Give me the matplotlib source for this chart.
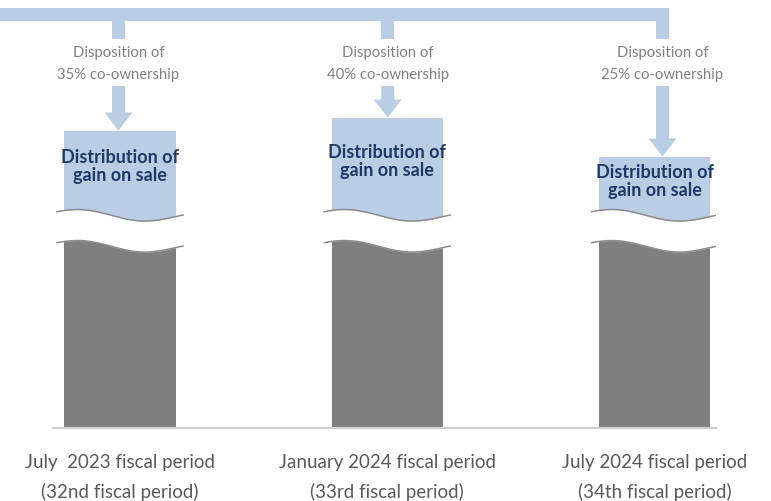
import matplotlib
matplotlib.use("Agg")
import matplotlib.pyplot as plt
import numpy as np
from matplotlib.patches import Rectangle, Polygon

# ---------------- data ----------------
periods = ["July  2023 fiscal period\n(32nd fiscal period)",
           "January 2024 fiscal period\n(33rd fiscal period)",
           "July 2024 fiscal period\n(34th fiscal period)"]
disposition_pct = ["35%", "40%", "25%"]
base_values = [192, 192, 192]      # truncated (broken) base distribution
gain_values = [105, 118, 79]       # distribution of gain on sale
gain_label = "Distribution of\ngain on sale"

# ---------------- style / layout ----------------
W, H = 771, 501
BLUE = "#B9CDE5"
GRAY = "#7F7F7F"
NAVY = "#1F3864"
FONT = "Lato"
plt.rcParams['font.family'] = [FONT, 'DejaVu Sans']

fig = plt.figure(figsize=(W / 100, H / 100), dpi=100)
ax_left_px, ax_right_px = 53, 716
base_px = 427.5
ax = fig.add_axes([ax_left_px / W, (H - base_px) / H,
                   (ax_right_px - ax_left_px) / W, base_px / H])
x = np.arange(len(periods))
ax.set_xlim(-0.2507, 2.230)
ax.set_ylim(0, base_px)
bw = 0.417

ax.bar(x, base_values, width=bw, color=GRAY, zorder=2)
ax.bar(x, gain_values, bottom=base_values, width=bw, color=BLUE, zorder=2)

# break marks (white wavy band)
m = 0.03
for i in x:
    xs = np.linspace(i - bw / 2 - m, i + bw / 2 + m, 200)
    t = (xs - xs[0]) / (xs[-1] - xs[0])
    off = -5 * np.sin(2 * np.pi * t + 0.44) + 3 * t
    yu = base_values[i] + 21.5 - off
    yl = base_values[i] - 9.5 - off
    ax.fill_between(xs, yl, yu, color="white", zorder=3, lw=0)
    ax.plot(xs, yu, color="#8C8C8C", lw=1.1, zorder=4, solid_capstyle="butt")
    ax.plot(xs, yl, color="#8C8C8C", lw=1.1, zorder=4, solid_capstyle="butt")

# box text
text_offsets = [36, 44, 25]
for i in x:
    top = base_values[i] + gain_values[i]
    ax.text(i, top - text_offsets[i], gain_label, ha="center", va="center",
            fontsize=13, fontweight="bold", color=NAVY, linespacing=1.08,
            zorder=5)

for s in ["top", "left", "right"]:
    ax.spines[s].set_visible(False)
ax.spines["bottom"].set_color("#D0D0D0")
ax.spines["bottom"].set_linewidth(1.6)
ax.set_yticks([])
ax.set_xticks(x)
ax.set_xticklabels(periods, fontsize=13.5, color="#595959", linespacing=1.8)
ax.tick_params(axis="x", length=0, pad=19)
ax.patch.set_visible(False)

# ---------------- overlay connectors ----------------
oax = fig.add_axes([0, 0, 1, 1], zorder=5)
oax.set_xlim(0, W)
oax.set_ylim(H, 0)
oax.axis("off")
oax.patch.set_visible(False)

fig.canvas.draw()
arrow_dx = [-1.5, 0.5, 8]
shaft_w, head_w, head_len = 13, 28, 18
cxs, tips = [], []
for i in x:
    dx, dy = ax.transData.transform((i, base_values[i] + gain_values[i]))
    cxs.append(dx + arrow_dx[i])
    tips.append(H - dy)

band_top, band_h = 8, 13
oax.add_patch(Rectangle((0, band_top), cxs[2] + shaft_w / 2, band_h,
                        color=BLUE, lw=0))
for i in x:
    cx = cxs[i]
    oax.add_patch(Rectangle((cx - shaft_w / 2, band_top), shaft_w, 39 - band_top,
                            color=BLUE, lw=0))
    oax.text(cx, 64, f"Disposition of\n{disposition_pct[i]} co-ownership",
             ha="center", va="center", fontsize=10.7, color="#808080",
             linespacing=1.65)
    y0 = 86
    tip = tips[i]
    pts = [(cx - shaft_w / 2, y0), (cx + shaft_w / 2, y0),
           (cx + shaft_w / 2, tip - head_len), (cx + head_w / 2, tip - head_len),
           (cx, tip), (cx - head_w / 2, tip - head_len),
           (cx - shaft_w / 2, tip - head_len)]
    oax.add_patch(Polygon(pts, closed=True, color=BLUE, lw=0))

fig.savefig("out.png", dpi=100)
